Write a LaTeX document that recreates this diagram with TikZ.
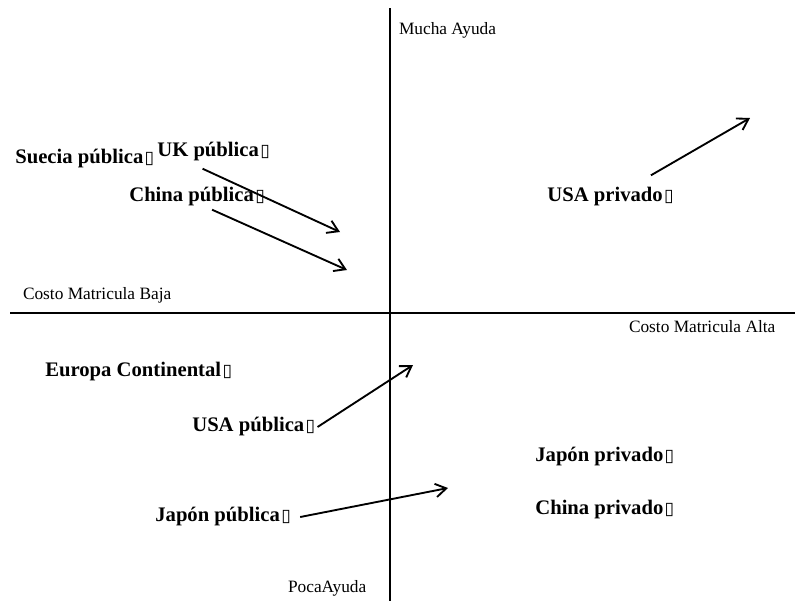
\documentclass[tikz,border=0pt]{standalone}
\usepackage{fontspec}
\setmainfont{Liberation Serif}
\newfontfamily\symfont{DejaVu Sans}
\usetikzlibrary{arrows.meta,calc}
\newcommand{\gbox}{\hspace{1pt}{\symfont\mdseries\fontsize{13}{13}\selectfont ▯}}

\tikzset{every picture/.style={line width=1.5pt}}

\begin{document}
\begin{tikzpicture}[x=0.75pt,y=0.75pt,yscale=-1,xscale=1,
  lbl/.style={font=\bfseries\fontsize{15.5}{18}\selectfont, inner sep=1pt},
  axlbl/.style={font=\fontsize{13}{15}\selectfont, inner sep=0pt},
  arr/.style={-{Straight Barb[length=8pt,width=10pt]}, line width=1.4pt}]
\useasboundingbox (0,0) rectangle (795,601);

%Straight Lines [id:axis_v]
\draw    (390,8) -- (390,601) ;
%Straight Lines [id:axis_h]
\draw    (10,313) -- (795,313) ;

% Text Node
\draw (398,30) node [axlbl, anchor=west] (mucha) {Mucha Ayuda};
% Text Node
\draw (22,295) node [axlbl, anchor=west] (baja) {Costo Matricula Baja};
% Text Node
\draw (628,327) node [axlbl, anchor=west] (alta) {Costo Matricula Alta};
% Text Node
\draw (287,588) node [axlbl, anchor=west] (poca) {PocaAyuda};

% Text Node
\draw (13,159) node [lbl, anchor=west] (suecia) {Suecia pública\gbox};
% Text Node
\draw (155,152) node [lbl, anchor=west] (uk) {UK pública\gbox};
% Text Node
\draw (127,197) node [lbl, anchor=west] (chinapub) {China pública\gbox};
% Text Node
\draw (545,197) node [lbl, anchor=west] (usapriv) {USA privado\gbox};
% Text Node
\draw (43,372) node [lbl, anchor=west] (europa) {Europa Continental\gbox};
% Text Node
\draw (190,427) node [lbl, anchor=west] (usapub) {USA pública\gbox};
% Text Node
\draw (153,517) node [lbl, anchor=west] (jappub) {Japón pública\gbox};
% Text Node
\draw (533,457) node [lbl, anchor=west] (jappriv) {Japón privado\gbox};
% Text Node
\draw (533,510) node [lbl, anchor=west] (chinapriv) {China privado\gbox};

\coordinate (ukend) at (340,232);
\coordinate (chinaend) at (347,270);
\coordinate (usaprivend) at (750,118);
\coordinate (usapubend) at (413,365);
\coordinate (jappubend) at (448,488);

%Straight Lines [id:uk_arrow]
\draw [arr] ($(uk.south)+(-11,5)$) -- (ukend) ;
%Straight Lines [id:china_arrow]
\draw [arr] ($(chinapub.south)+(15,1)$) -- (chinaend) ;
%Straight Lines [id:usapriv_arrow]
\draw [arr] ($(usapriv.north east)+(-25,-10)$) -- (usaprivend) ;
%Straight Lines [id:usapub_arrow]
\draw [arr] (usapub.east) -- (usapubend) ;
%Straight Lines [id:jappub_arrow]
\draw [arr] ($(jappub.east)+(7,0)$) -- (jappubend) ;

\end{tikzpicture}
\end{document}
